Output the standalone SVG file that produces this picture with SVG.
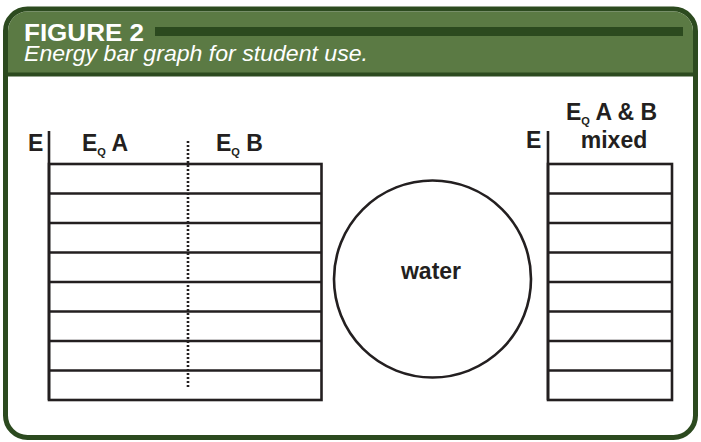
<svg xmlns="http://www.w3.org/2000/svg" width="701" height="442" viewBox="0 0 701 442">
<style>
.frame{fill:#fff;stroke:#2c4a1f;stroke-width:5}
.hdr{fill:#5b7a44}
.ln{stroke:#231f20;stroke-width:2.6;fill:none}
.lbl{font-family:"Liberation Sans",Arial,sans-serif;font-weight:bold;font-size:23px;fill:#231f20}
.sub{font-size:11px}
</style>
<g id="frame">
<rect class="frame" x="5.5" y="9" width="690" height="428.5" rx="22" ry="22"/>
<path class="hdr" d="M8,74 V31 A19.5,19.5 0 0 1 27.5,11.5 H673.5 A19.5,19.5 0 0 1 693,31 V74 Z"/>
<line x1="5.5" y1="74.5" x2="695.5" y2="74.5" stroke="#2c4a1f" stroke-width="4"/>
<rect x="155" y="27" width="528" height="9" fill="#2c4a1f"/>
<text x="24" y="40.5" font-family="'Liberation Sans',Arial,sans-serif" font-weight="bold" font-size="24" fill="#fff" textLength="120" lengthAdjust="spacingAndGlyphs">FIGURE 2</text>
<text x="24" y="61" font-family="'Liberation Sans',Arial,sans-serif" font-style="italic" font-size="22.5" fill="#fff" textLength="344" lengthAdjust="spacingAndGlyphs">Energy bar graph for student use.</text>
</g>
<g id="graph-left">
<line class="ln" x1="49" y1="131" x2="49" y2="400"/>
<rect class="ln" x="49" y="164" width="272.5" height="236"/>
<path class="ln" d="M49,193.5H321.5M49,223H321.5M49,252.5H321.5M49,282H321.5M49,311.5H321.5M49,341H321.5M49,370.5H321.5"/>
<line x1="188" y1="141" x2="188" y2="388" stroke="#231f20" stroke-width="2.6" stroke-dasharray="2 2"/>
<text class="lbl" x="28" y="151">E</text>
<text class="lbl" x="82" y="151">E<tspan class="sub" dy="5">Q</tspan><tspan dy="-5"> A</tspan></text>
<text class="lbl" x="216" y="151">E<tspan class="sub" dy="5">Q</tspan><tspan dy="-5"> B</tspan></text>
</g>
<g id="water">
<circle class="ln" cx="432.5" cy="279" r="98.5"/>
<text class="lbl" x="431" y="279" text-anchor="middle" style="font-size:23px">water</text>
</g>
<g id="graph-right">
<line class="ln" x1="548" y1="131" x2="548" y2="400"/>
<rect class="ln" x="548" y="164" width="124" height="236"/>
<path class="ln" d="M548,193.5H672M548,223H672M548,252.5H672M548,282H672M548,311.5H672M548,341H672M548,370.5H672"/>
<text class="lbl" x="526" y="148">E</text>
<text class="lbl" x="566" y="120">E<tspan class="sub" dy="5">Q</tspan><tspan dy="-5"> A &amp; B</tspan></text>
<text class="lbl" x="614" y="148" text-anchor="middle">mixed</text>
</g>
<g id="connectors"/>
</svg>
